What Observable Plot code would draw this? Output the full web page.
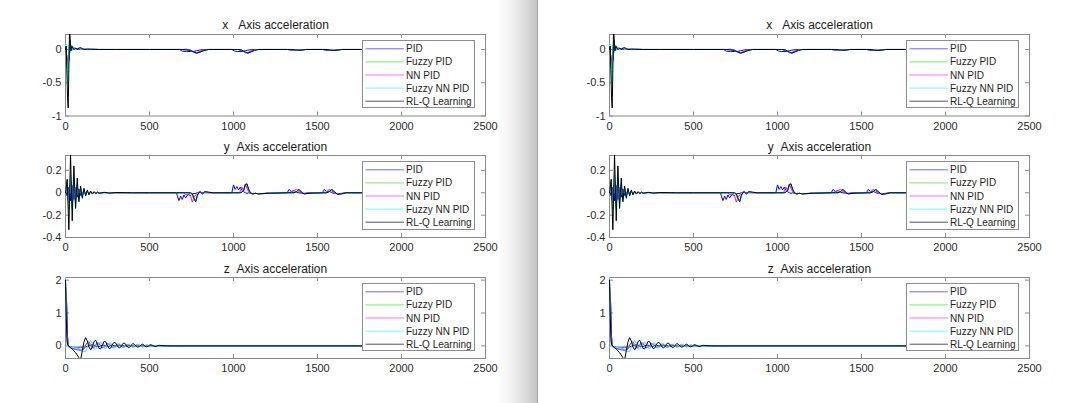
<!DOCTYPE html>
<html><head><meta charset="utf-8">
<script src="https://cdn.jsdelivr.net/npm/d3@7"></script>
<script src="https://cdn.jsdelivr.net/npm/@observablehq/plot@0.6"></script>
<style>
html,body{margin:0;padding:0;background:#fff;}
#root{position:relative;width:1080px;height:403px;overflow:hidden;background:#fff;font-family:"Liberation Sans",Arial,sans-serif;}
.shadow{position:absolute;left:496px;top:0;width:41px;height:403px;background:linear-gradient(to right,rgba(255,255,255,1) 0%,#f3f3f3 35%,#d9d9d9 75%,#c4c4c4 100%);}
.edge{position:absolute;left:537px;top:0;width:1px;height:403px;background:#a3a3a3;}
.chart{position:absolute;}
.legend{position:absolute;background:#fff;border:1px solid #8c8c8c;box-sizing:border-box;}
.legend svg{position:absolute;left:0;top:0;}
</style>
</head><body>
<div id="root"><div class="shadow"></div><div class="edge"></div></div>
<script>
// ---------- data ----------
const seriesNames = ["PID", "Fuzzy PID", "NN PID", "Fuzzy NN PID", "RL-Q Learning"];
const seriesColors = ["#0000ff", "#00ee00", "#ff00ff", "#00ffff", "#000000"];
const legendColors = ["#6a6aff", "#6cf06c", "#ff6cff", "#6cfafa", "#555555"];
const xTickValues = [0, 500, 1000, 1500, 2000, 2500];

// x axis acceleration
const tX = [0,4,8,12,16,20,24,28,32,36, 40,46,52,60,70,80,90,100,115,130, 150,200,300,500,680,695,720,745,765,780, 800,820,850,990,1005,1025,1050,1070,1085,1105, 1125,1150,1320,1340,1365,1390,1410,1430,1530,1550, 1575,1600,1620,1645,2200];
const xPID = [0,-0.04,-0.1,-0.16,-0.2,-0.17,-0.08,0.03,0.06,0.04, 0.01,0,0.015,0.02,0.005,0,0.01,0.005,0,0.005, 0.002,0,0,0,0,-0.025,-0.032,-0.03,-0.028,-0.02, -0.008,-0.002,0,0,-0.022,-0.032,-0.03,-0.02,-0.01,-0.003, 0,0,0,-0.01,-0.012,-0.008,-0.003,0,0,-0.012, -0.015,-0.01,-0.003,0,0];
const xFuzzy = [0,0.02,-0.15,-0.35,-0.3,-0.05,0.1,0.12,0.04,-0.01, 0,0.03,0.02,0,0.01,0.02,0.005,0,0.008,0, 0.003,0,0,0,0,0,-0.005,-0.015,-0.045,-0.055, -0.04,-0.02,0,0,0,0,-0.01,-0.04,-0.055,-0.035, -0.012,0,0,0,-0.005,-0.012,-0.01,0,0,0, -0.008,-0.016,-0.01,0,0];
const xNN = [0,-0.03,-0.12,-0.2,-0.23,-0.15,0,0.07,0.06,0.02, 0,0.01,0.02,0.01,0,0.008,0.005,0,0.004,0, 0.002,0,0,0,0,0,0.005,-0.01,-0.045,-0.05, -0.03,-0.01,0,0,0,0,-0.015,-0.05,-0.045,-0.02, -0.005,0,0,0,-0.01,-0.01,-0.004,0,0,-0.004, -0.014,-0.012,-0.004,0,0];
const xFNN = [0.05,0.08,-0.2,-0.5,-0.3,0,0.15,0.13,0.03,-0.02, 0,0.04,0.02,-0.005,0.012,0.02,0,0.01,0.005,0, 0.004,0,0,0,0,0,-0.005,-0.015,-0.045,-0.058, -0.042,-0.02,0,0,0,0,-0.01,-0.042,-0.058,-0.035, -0.012,0,0,0,-0.005,-0.013,-0.01,0,0,0, -0.008,-0.017,-0.01,0,0];
const xRL = [0,0.05,-0.3,-0.72,-0.88,-0.3,0.3,0.16,-0.02,0.04, 0.05,0.01,0,0.015,0.005,0.02,0.03,0.01,0,0.005, 0.003,0,0,0,0,0,-0.005,-0.015,-0.04,-0.055, -0.04,-0.02,0,0,0,0,-0.01,-0.04,-0.055,-0.035, -0.012,0,0,0,-0.005,-0.012,-0.01,0,0,0, -0.008,-0.016,-0.01,0,0];

// y axis acceleration
const tY = [0,5,10,15,20,25,30,35,40,45,50,55,60,65,70,75,80,85,90,95,100,
 110,120,130,140,150,160,170,180,190,200,
 230,260,300,400,500,
 660,675,685,695,705,715,730,745,755,765,
 775,785,800,815,830,850,880,
 990,1000,1010,1020,1030,1040,1050,1060,1070,1080,
 1090,1100,1115,1130,1150,1200,
 1320,1330,1345,1360,1375,1390,1405,1420,1450,
 1530,1540,1555,1570,1585,1600,1620,1645,1670,
 2200];
const yPID = [0,0,-0.03,0.05,-0.06,0.07,-0.07,0.06,-0.06,0.065,-0.06,0.05,-0.05,0.045,-0.04,0.035,-0.03,0.03,-0.025,0.02,-0.02,
 0.015,-0.012,0.01,-0.008,0.006,-0.005,0.004,-0.003,0.002,-0.002,
 0.001,0,0,0,0,
 0,-0.07,-0.03,-0.06,-0.02,-0.045,-0.015,-0.025,-0.01,-0.008,
 -0.005,0,0.005,0,0,0,0,
 0,0.07,0.03,0.055,0.025,0.05,0.02,0.01,0,-0.005,
 0,-0.005,-0.01,-0.005,-0.01,-0.005,
 0,0.03,0.01,0.02,0.005,0,-0.005,-0.005,0,
 0,0.03,0.01,0.015,0,-0.005,-0.01,-0.005,0,
 0];
const yFuzzy = [0,0.03,0.08,-0.05,-0.15,0,0.15,0.02,-0.13,0,0.12,0.01,-0.09,0,0.07,0,-0.05,0,0.04,0,-0.03,
 0.025,-0.02,0.015,-0.012,0.01,-0.008,0.006,-0.005,0.004,-0.003,
 0.002,-0.001,0,0,0,
 0,0,0,0,0,0,0,-0.005,-0.02,-0.06,
 -0.08,-0.03,0.01,-0.008,0.008,0.004,0,
 0,0,0,0,0,0,0.005,0.02,0.06,0.08,
 0.035,0,-0.01,-0.006,-0.01,-0.005,
 0,0,0,0,0.01,0.03,0.008,-0.01,-0.005,
 0,0,0,0.01,0.03,0.012,-0.015,-0.01,0,
 0];
const yNN = [0,0.02,0.06,-0.02,-0.1,0.02,0.1,0,-0.09,0,0.08,0,-0.06,0,0.05,0,-0.04,0,0.03,0,-0.025,
 0.02,-0.015,0.012,-0.01,0.008,-0.006,0.005,-0.004,0.003,-0.002,
 0.001,0,0,0,0,
 0,0,0,0,0,-0.02,-0.01,-0.03,-0.084,-0.04,
 -0.02,0,0.01,-0.005,0.005,0,0,
 0,0,0,0,0,0.01,0.05,0.02,0.08,0.04,
 0.01,-0.005,-0.01,-0.005,-0.008,-0.004,
 0,0,0.01,0.02,0.03,0.01,0,-0.008,-0.004,
 0,0,0.01,0.03,0.015,0,-0.012,-0.008,0,
 0];
const yFNN = [0,0.04,0.1,-0.06,-0.15,0.02,0.16,0,-0.15,0.02,0.13,0,-0.1,0.01,0.08,0,-0.06,0,0.045,0,-0.035,
 0.028,-0.022,0.017,-0.013,0.01,-0.008,0.006,-0.005,0.004,-0.003,
 0.002,-0.001,0,0,0,
 0,0,0,0,0,0,0,-0.005,-0.02,-0.065,
 -0.08,-0.025,0.012,-0.008,0.008,0.004,0,
 0,0,0,0,0,0,0.005,0.025,0.065,0.075,
 0.03,0,-0.012,-0.006,-0.01,-0.005,
 0,0,0,0,0.012,0.028,0.008,-0.01,-0.005,
 0,0,0,0.012,0.028,0.01,-0.015,-0.01,0,
 0];
const yRL = [0,0.05,0.12,-0.1,-0.33,0,0.34,0.05,-0.25,0,0.24,0.04,-0.14,0,0.13,0,-0.08,0,0.06,0,-0.05,
 0.04,-0.03,0.025,-0.02,0.015,-0.012,0.01,-0.008,0.006,-0.005,
 0.004,-0.003,0.002,0,0,
 0,0,0,0,0,0,0,0,-0.01,-0.05,
 -0.08,-0.02,0.01,-0.01,0.01,0.005,0,
 0,0,0,0,0,0,0.005,0.02,0.07,0.08,
 0.03,0,-0.01,-0.005,-0.01,-0.005,
 0,0,0,0,0.01,0.03,0.005,-0.01,-0.005,
 0,0,0,0.01,0.03,0.01,-0.015,-0.01,0,
 0];

// z axis acceleration
const tZ = [0,4,8,12,16,20, 30,40,50,60,70,80,90,100,110,120, 130,140,150,160,170,180,190,200,210,220, 230,240,250,260,270,280,290,300,310,320, 330,340,350,360,370,380,390,400,410,420, 430,440,450,460,470,480,490,500,510,520, 530,540,550,560, 600,650,700,2200];
const zPID = [1.9,1.5,1.2,0.3,0.02,-0.02, -0.03,-0.04,-0.04,-0.04,-0.04,-0.04,-0.04,-0.04,-0.035,-0.03, -0.02,0,0.02,0.03,0.02,0,-0.02,-0.02,0,0.02, 0.02,0,-0.015,-0.01,0.01,0.015,0.005,-0.01,-0.01,0.005, 0.01,0.005,-0.005,-0.008,0,0.008,0.005,-0.005,-0.005,0, 0.005,0.003,-0.003,-0.003,0,0.003,0,0,0,0, 0,0,0,0, 0,0,0,0];
const zFuzzy = [2.0,1.1,0.4,0.1,0,-0.03, -0.05,-0.07,-0.08,-0.09,-0.1,-0.11,-0.12,-0.12,-0.06,0.04, 0.1,0.08,0,-0.06,-0.04,0.04,0.08,0.06,-0.01,-0.05, -0.03,0.03,0.06,0.04,-0.01,-0.04,-0.02,0.02,0.05,0.03, -0.01,-0.03,-0.02,0.02,0.04,0.02,-0.01,-0.03,-0.01,0.02, 0.03,0.01,-0.01,-0.02,0,0.02,0.01,0,-0.01,0, 0.01,0.005,0,0, 0,0,0,0];
const zNN = [2.0,1.0,0.35,0.3,0.05,-0.03, -0.06,-0.08,-0.1,-0.11,-0.12,-0.13,-0.14,-0.15,-0.1,0.02, 0.1,0.12,0.04,-0.06,-0.07,0.02,0.09,0.08,0,-0.06, -0.05,0.02,0.07,0.06,0,-0.04,-0.04,0.01,0.05,0.04, 0,-0.03,-0.03,0.01,0.04,0.03,-0.01,-0.03,-0.02,0.01, 0.03,0.02,-0.01,-0.02,-0.01,0.01,0.02,0.01,-0.01,-0.01, 0,0.01,0.005,0, 0,0,0,0];
const zFNN = [2.08,0.8,0.1,0,-0.02,-0.03, -0.04,-0.05,-0.05,-0.06,-0.07,-0.08,-0.1,-0.14,-0.18,-0.17, -0.05,0.1,0.16,0.08,-0.06,-0.1,-0.02,0.1,0.12,0.03, -0.07,-0.08,0,0.09,0.08,-0.01,-0.06,-0.05,0.03,0.07, 0.04,-0.03,-0.05,-0.01,0.05,0.05,0,-0.04,-0.03,0.02, 0.04,0.02,-0.02,-0.03,0,0.03,0.02,-0.01,-0.02,0, 0.02,0.01,-0.01,-0.01, 0,0,0,0];
const zRL = [2.0,1.0,0.25,0.05,0,-0.01, -0.05,-0.1,-0.15,-0.21,-0.28,-0.36,-0.42,-0.15,0.12,0.25, 0.15,-0.04,-0.12,-0.03,0.13,0.17,0.05,-0.08,-0.09,0.02, 0.14,0.12,0,-0.08,-0.06,0.05,0.11,0.08,-0.02,-0.06, -0.03,0.06,0.09,0.03,-0.04,-0.05,0.01,0.07,0.05,-0.01, -0.04,-0.02,0.03,0.05,0.01,-0.03,-0.02,0.02,0.035,0.01, -0.02,-0.015,0.01,0.015, 0,0,0,0];

const subplots = [
  {title: "x\u00a0\u00a0\u00a0Axis acceleration", t: tX, vals: [xPID, xFuzzy, xNN, xFNN, xRL], domain: [-1, 0.225], ticks: [-1, -0.5, 0], top: 33.5, h: 81.5, dy: -9.5},
  {title: "y\u00a0\u00a0Axis acceleration", t: tY, vals: [yPID, yFuzzy, yNN, yFNN, yRL], domain: [-0.4, 0.333], ticks: [-0.4, -0.2, 0, 0.2], top: 155.3, h: 82, dy: -8},
  {title: "z\u00a0\u00a0Axis acceleration", t: tZ, vals: [zPID, zFuzzy, zNN, zFNN, zRL], domain: [-0.385, 2.08], ticks: [0, 1, 2], top: 276.8, h: 81, dy: -8}
];
const panelOffsets = [0, 544];

// ---------- drawing ----------
const root = document.getElementById("root");
const axL = 65, axW = 420;
const mL = 50, mR = 12, mT = 22, mB = 24;
const boxColor = "#8a8a8a";

function makeSub(cfg) {
  const H = cfg.h, W = axW;
  const marks = [
    Plot.frame({stroke: boxColor}),
    Plot.tickX(xTickValues, {x: d => d, stroke: boxColor, insetTop: H - 4}),
    Plot.tickX(xTickValues, {x: d => d, stroke: boxColor, insetBottom: H - 4}),
    Plot.tickY(cfg.ticks, {y: d => d, stroke: boxColor, insetRight: W - 4}),
    Plot.tickY(cfg.ticks, {y: d => d, stroke: boxColor, insetLeft: W - 4}),
    Plot.axisX({ticks: xTickValues, tickSize: 0, tickPadding: 6, tickFormat: d => String(d), label: null}),
    Plot.axisY({ticks: cfg.ticks, tickSize: 0, tickPadding: 4, tickFormat: d => String(d), label: null})
  ];
  cfg.vals.forEach((v, k) => {
    marks.push(Plot.line(cfg.t, {x: d => d, y: (d, i) => v[i], stroke: seriesColors[k], strokeWidth: 1, clip: true}));
  });
  marks.push(Plot.text([cfg.title], {frameAnchor: "top", lineAnchor: "middle", dy: cfg.dy, fontSize: 12, fill: "#1a1a1a"}));
  return Plot.plot({
    width: W + mL + mR, height: H + mT + mB,
    marginLeft: mL, marginRight: mR, marginTop: mT, marginBottom: mB,
    style: {background: "none", fontFamily: "'Liberation Sans', Arial, sans-serif", fontSize: "11px", color: "#2a2a2a", overflow: "visible"},
    x: {domain: [0, 2500]},
    y: {domain: cfg.domain},
    marks
  });
}

function makeLegend(left, top) {
  const div = document.createElement("div");
  div.className = "legend";
  div.style.left = left + "px";
  div.style.top = top + "px";
  div.style.width = "113.5px";
  div.style.height = "68.5px";
  const svg = d3.create("svg").attr("width", 112).attr("height", 67)
    .style("font-family", "'Liberation Sans', Arial, sans-serif").style("font-size", "10px");
  seriesNames.forEach((name, i) => {
    const y = 7.8 + 13.1 * i;
    svg.append("line").attr("x1", 2.5).attr("x2", 41).attr("y1", y).attr("y2", y)
      .attr("stroke", legendColors[i]).attr("stroke-width", 1);
    svg.append("text").attr("x", 43).attr("y", y).attr("dy", "0.35em").attr("fill", "#1e1e1e").text(name);
  });
  div.appendChild(svg.node());
  return div;
}

panelOffsets.forEach(ox => {
  subplots.forEach(cfg => {
    const chart = makeSub(cfg);
    const wrap = document.createElement("div");
    wrap.className = "chart";
    wrap.style.left = (ox + axL - mL) + "px";
    wrap.style.top = (cfg.top - mT) + "px";
    wrap.appendChild(chart);
    root.appendChild(wrap);
    root.appendChild(makeLegend(ox + axL + 296.7, cfg.top + 6));
  });
});
</script>
</body></html>
